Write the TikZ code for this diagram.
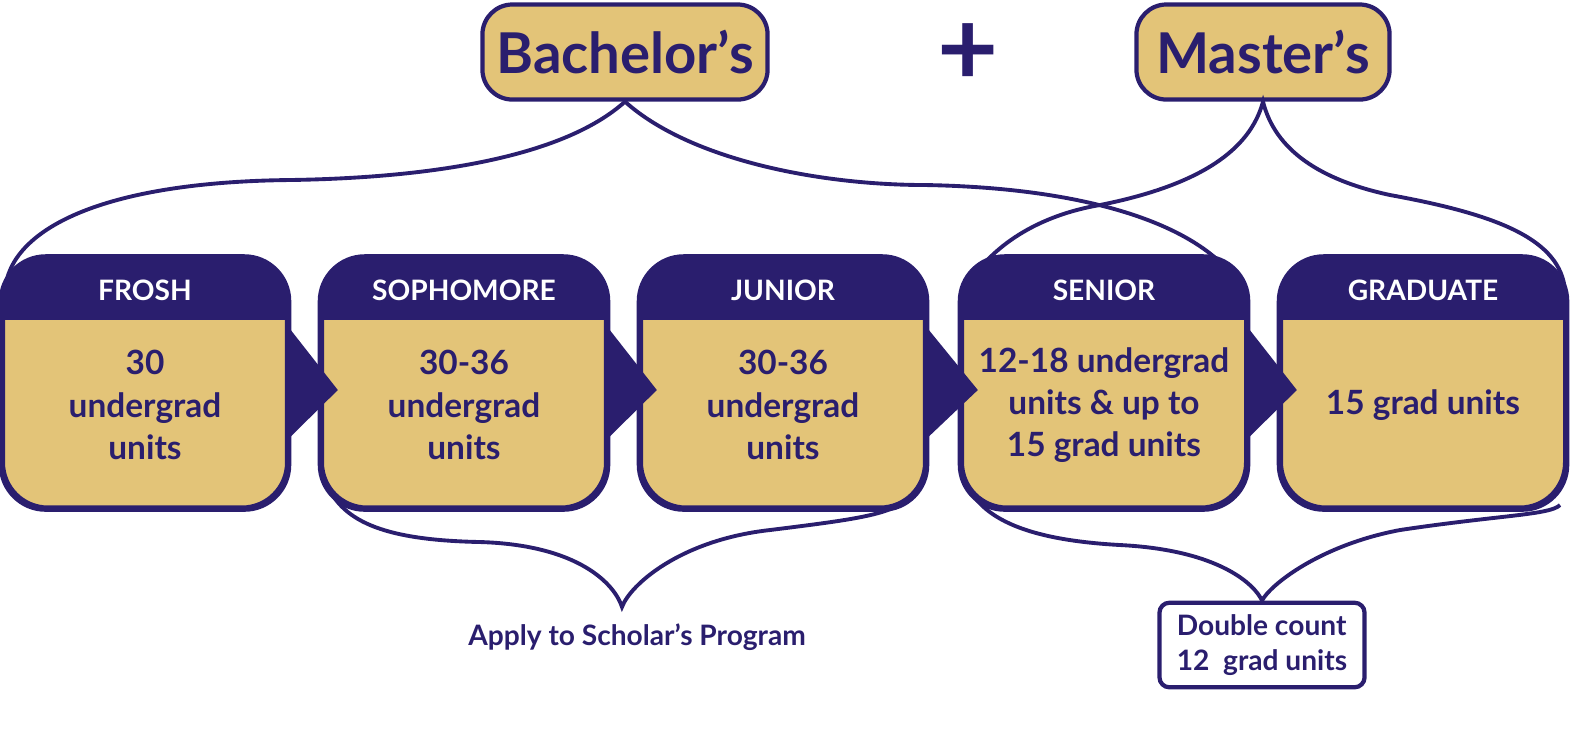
\documentclass[tikz,border=0pt]{standalone}
\usepackage{fontspec}
\setmainfont{Lato}
\definecolor{navy}{RGB}{42,30,110}
\definecolor{gold}{RGB}{227,196,120}
\begin{document}
\begin{tikzpicture}[x=0.01cm,y=-0.01cm,
  yearbox/.style={draw=navy,line width=1.2pt,rounded corners=0.45cm,fill=gold,
    minimum width=2.84cm,minimum height=2.49cm,inner sep=0pt},
  degbox/.style={draw=navy,line width=1.2pt,rounded corners=0.3cm,fill=gold,
    minimum width=2.85cm,minimum height=0.95cm,font=\fontsize{16}{18}\selectfont\bfseries,text=navy},
  bodytxt/.style={text=navy,font=\fontsize{9.5}{12}\selectfont\bfseries,align=center},
  brace/.style={draw=navy,line width=1.1pt}]
\useasboundingbox (0,0) rectangle (1577,753);

% degrees
\node[degbox] (bach) at (625,52) {Bachelor’s};
\node[degbox,minimum width=2.53cm] (mast) at (1263,52) {Master’s};
\node[text=navy,font=\fontsize{30}{30}\selectfont\bfseries] (plus) at (968,55) {+};

% year boxes
\foreach \nm/\x/\lbl/\txt in {frosh/145/FROSH/30\\undergrad\\units,
  soph/464/SOPHOMORE/30-36\\undergrad\\units,
  jun/783/JUNIOR/30-36\\undergrad\\units,
  sen/1104/SENIOR/12-18 undergrad\\units \& up to\\15 grad units,
  grad/1423/GRADUATE/15 grad units}{
  \node[yearbox] (\nm) at (\x,383) {};
  \begin{scope}
    \clip[rounded corners=0.45cm] (\nm.south west) rectangle (\nm.north east);
    \fill[navy] (\nm.north west) rectangle ([yshift=-0.64cm]\nm.north east);
  \end{scope}
  \draw[navy,line width=1.2pt,rounded corners=0.45cm] (\nm.south west) rectangle (\nm.north east);
  \node[text=white,font=\fontsize{8}{10}\selectfont\bfseries] (\nm-hd) at (\x,290) {\lbl};
  \node[bodytxt] (\nm-tx) at (\x,405) {\txt};
}

% arrows between years
\foreach \a/\b in {frosh/soph,soph/jun,jun/sen,sen/grad}
  \fill[navy] ([yshift=0.55cm]\a.east) -- ([xshift=0.18cm,yshift=-0.07cm]\b.west) -- ([yshift=-0.55cm]\a.east) -- cycle;

% braces on top
\draw[brace] (5,290) .. controls (10,230) and (100,182) .. (290,180)
  .. controls (420,178) and (560,160) .. (bach.south)
  .. controls (690,160) and (820,185) .. (925,185)
  .. controls (1100,188) and (1210,230) .. (1242,290);
\draw[brace] (965,290) .. controls (990,245) and (1040,215) .. (1100,205)
  .. controls (1200,185) and (1250,150) .. (mast.south)
  .. controls (1275,150) and (1320,180) .. (1390,195)
  .. controls (1500,215) and (1560,240) .. (1565,290);

% braces below
\node[text=navy,font=\fontsize{8}{10}\selectfont\bfseries] (apply) at (637,637) {Apply to Scholar’s Program};
\node[draw=navy,line width=1.2pt,rounded corners=0.1cm,text=navy,align=left,
  font=\fontsize{8}{10}\selectfont\bfseries,minimum width=2.05cm,minimum height=0.84cm] (dbl) at (1262,645)
  {Double count\\12\ \ grad units};
\coordinate (apex1) at (622,607);
\draw[brace] (325,480) .. controls (340,520) and (380,540) .. (480,542)
  .. controls (580,545) and (615,585) .. (apex1)
  .. controls (630,585) and (680,540) .. (770,530)
  .. controls (850,520) and (890,515) .. (905,500);
\draw[brace] (965,480) .. controls (980,520) and (1030,540) .. (1120,545)
  .. controls (1220,550) and (1255,585) .. (dbl.north)
  .. controls (1270,585) and (1320,545) .. (1400,530)
  .. controls (1500,515) and (1550,515) .. (1560,505);
\end{tikzpicture}
\end{document}
